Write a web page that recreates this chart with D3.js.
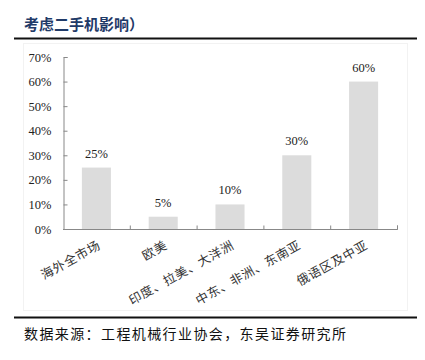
<!DOCTYPE html>
<html>
<head>
<meta charset="utf-8">
<script src="https://cdn.jsdelivr.net/npm/d3@7"></script>
<style>
  body { margin: 0; background: #fff; }
  svg { display: block; }
</style>
</head>
<body>
<script>
const width = 425
const height = 360

const categories = ['海外全市场', '欧美', '印度、拉美、大洋洲', '中东、非洲、东南亚', '俄语区及中亚']
const values = [25, 5, 10, 30, 60]
const yTicks = [0, 10, 20, 30, 40, 50, 60, 70]

const titleText = '考虑二手机影响）'
const sourceText = '数据来源：工程机械行业协会，东吴证券研究所'

const serif = '"Liberation Serif", "Times New Roman", serif'
const cjk = '"Noto Sans CJK SC", sans-serif'

let svg = d3.select('body').append('svg')
  .attr('width', width)
  .attr('height', height)

// title + rule
svg.append('text')
  .attr('x', 24)
  .attr('y', 30)
  .attr('font-family', cjk)
  .attr('font-size', 15)
  .attr('font-weight', 'bold')
  .attr('fill', '#1f3a68')
  .text(titleText)

svg.append('line')
  .attr('x1', 14).attr('x2', 417)
  .attr('y1', 38.5).attr('y2', 38.5)
  .attr('stroke', '#111')
  .attr('stroke-width', 2)

// faint chart panel
svg.append('rect')
  .attr('x', 23.5).attr('y', 43.5)
  .attr('width', 384).attr('height', 267)
  .attr('fill', 'none')
  .attr('stroke', '#f2f2f2')

const x = d3.scaleBand()
  .domain(categories)
  .range([63, 397])
  .paddingInner(0.565)
  .paddingOuter(0.2825)

const xEdge = d3.scaleLinear().domain([0, categories.length]).range([63, 397])

const y = d3.scaleLinear()
  .domain([0, 70])
  .range([229, 57])

// bars
svg.append('g')
  .selectAll('rect')
  .data(values)
  .enter()
  .append('rect')
  .attr('x', (d, i) => x(categories[i]))
  .attr('width', x.bandwidth())
  .attr('y', (d) => y(d))
  .attr('height', (d) => y(0) - y(d))
  .attr('fill', '#dcdcdc')

// value labels
svg.append('g')
  .selectAll('text')
  .data(values)
  .enter()
  .append('text')
  .attr('x', (d, i) => x(categories[i]) + x.bandwidth() / 2)
  .attr('y', (d) => y(d) - 10)
  .attr('text-anchor', 'middle')
  .attr('font-family', serif)
  .attr('font-size', 12.5)
  .attr('fill', '#222')
  .text((d) => d + '%')

// y axis
let yAxis = svg.append('g')
  .attr('transform', 'translate(63.5,0)')
  .call(d3.axisRight(y).tickValues(yTicks).tickSize(4).tickFormat((d) => d + '%'))

yAxis.select('.domain').attr('stroke', '#888')
yAxis.selectAll('.tick line').attr('stroke', '#888')
yAxis.selectAll('.tick text')
  .attr('x', -12)
  .attr('text-anchor', 'end')
  .attr('font-family', serif)
  .attr('font-size', 12.5)
  .attr('fill', '#222')

// x axis
let xAxis = svg.append('g')
  .attr('transform', 'translate(0,229.5)')
  .call(d3.axisTop(xEdge).tickValues(d3.range(1, categories.length + 1)).tickSize(4).tickFormat(''))

xAxis.select('.domain').attr('stroke', '#888').attr('d', 'M63,0H397.5V-4')
xAxis.selectAll('.tick line').attr('stroke', '#888')

svg.append('g')
  .selectAll('text')
  .data(categories)
  .enter()
  .append('text')
  .attr('transform', (d) => `translate(${x(d) + x.bandwidth() / 2 + 5},${y(0) + 19}) rotate(-29)`)
  .attr('text-anchor', 'end')
  .attr('font-family', cjk)
  .attr('font-size', 12.5)
  .attr('letter-spacing', 0.6)
  .attr('fill', '#333')
  .text((d) => d)

// bottom rule + source
svg.append('line')
  .attr('x1', 14).attr('x2', 417)
  .attr('y1', 317.5).attr('y2', 317.5)
  .attr('stroke', '#111')
  .attr('stroke-width', 2)

svg.append('text')
  .attr('x', 24)
  .attr('y', 339)
  .attr('font-family', cjk)
  .attr('font-size', 14)
  .attr('letter-spacing', 1.4)
  .attr('fill', '#111')
  .text(sourceText)
</script>
</body>
</html>
